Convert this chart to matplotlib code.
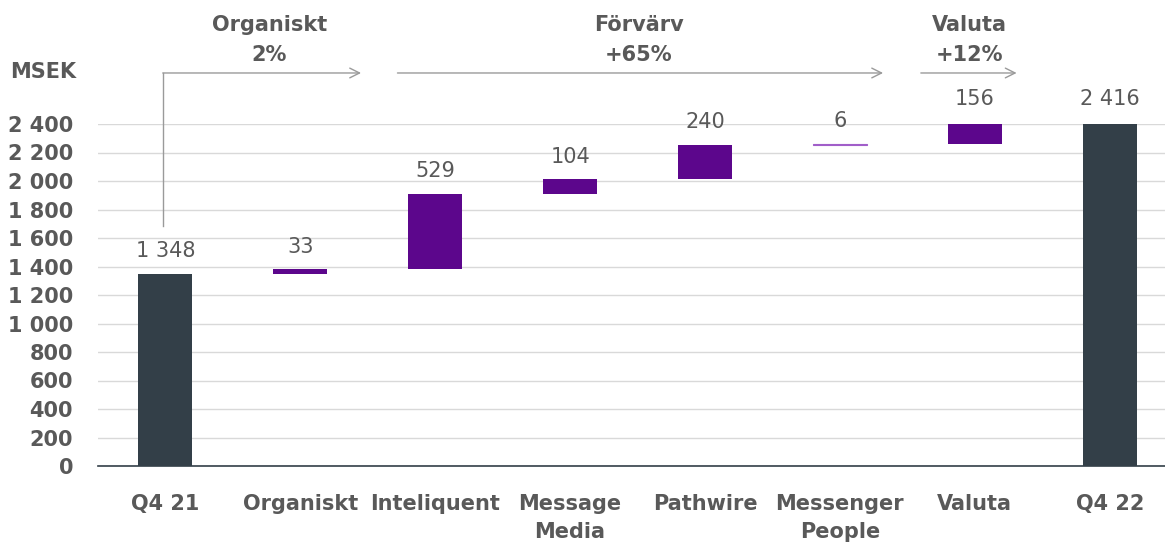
import matplotlib
matplotlib.use('Agg')
import matplotlib.pyplot as plt
from matplotlib.ticker import FuncFormatter

# data
categories = ['Q4 21', 'Organiskt', 'Inteliquent', 'Message\nMedia', 'Pathwire',
              'Messenger\nPeople', 'Valuta', 'Q4 22']
start_value = 1348
deltas = [33, 529, 104, 240, 6, 156]
end_value = 2416
y_ticks = list(range(0, 2401, 200))
group_labels = ['Organiskt\n2%', 'Förvärv\n+65%', 'Valuta\n+12%']

text_col = '#595959'
dark_col = '#333f48'
purple = '#5c068c'
thin_purple = '#a15ec9'
arrow_col = '#9a9a9a'

plt.rcParams['font.family'] = ['DejaVu Sans']

fig = plt.figure(figsize=(11.65, 5.43), dpi=100)
ax = fig.add_axes([98 / 1165, 1 - 466 / 543, 1 - 98 / 1165, (466 - 124) / 543])

x = list(range(len(categories)))
width = 0.4

# totals
ax.bar(x[0], start_value, width, color=dark_col, zorder=3)
ax.bar(x[-1], end_value, width, color=dark_col, zorder=3)

# floating bars (small steps get an outline so they still show as a line)
bottom = start_value
tops = [start_value]
for i, d in enumerate(deltas, start=1):
    if d < 15:
        ax.bar(i, d, width, bottom=bottom, color=thin_purple,
               edgecolor=thin_purple, linewidth=0.8, zorder=3)
    else:
        ax.bar(i, d, width, bottom=bottom, color=purple, zorder=3)
    bottom += d
    tops.append(bottom)
tops.append(end_value)

def fmt(v):
    return f'{v:,}'.replace(',', ' ')

values = [start_value] + deltas + [end_value]
for i, (v, t) in enumerate(zip(values, tops)):
    ax.annotate(fmt(v), (i, t), xytext=(0, 9), textcoords='offset points',
                ha='center', va='bottom', fontsize=15, color=text_col,
                annotation_clip=False)

ax.set_xlim(-0.5, 7.41)
ax.set_ylim(0, 2400)
ax.set_yticks(y_ticks)
ax.yaxis.set_major_formatter(FuncFormatter(lambda v, p: fmt(int(v))))
ax.set_xticks(x)
ax.set_xticklabels(categories, fontsize=15, fontweight='bold', color=text_col,
                   linespacing=1.5, va='top')
for lab in ax.get_yticklabels():
    lab.set_fontsize(15)
    lab.set_fontweight('bold')
    lab.set_color(text_col)
ax.tick_params(axis='y', length=0, pad=18)
ax.tick_params(axis='x', length=0, pad=20)
ax.grid(axis='y', color='#d9d9d9', linewidth=1, zorder=0)
for s in ['top', 'right', 'left']:
    ax.spines[s].set_visible(False)
ax.spines['bottom'].set_color(dark_col)
ax.spines['bottom'].set_linewidth(1.2)
ax.spines['bottom'].set_zorder(4)

# group arrows
ay = 2758
ax.plot([-0.02, -0.02], [1684, ay], color=arrow_col, lw=1, clip_on=False)
arrow_spans = [(-0.02, 1.45), (1.72, 5.32), (5.60, 6.31)]
for x0, x1 in arrow_spans:
    ax.annotate('', xy=(x1, ay), xytext=(x0, ay), annotation_clip=False,
                arrowprops=dict(arrowstyle='->,head_length=0.7,head_width=0.35',
                                color=arrow_col, lw=1, shrinkA=0, shrinkB=0))
label_x = [0.77, 3.51, 5.96]
for lx, lab in zip(label_x, group_labels):
    ax.text(lx, 2990, lab, ha='center', va='center', fontsize=15,
            fontweight='bold', color=text_col, linespacing=1.6, clip_on=False)

fig.text(10 / 1165, 1 - 72 / 543, 'MSEK', ha='left', va='center', fontsize=15,
         fontweight='bold', color=text_col)

fig.savefig('out.png', dpi=100)
